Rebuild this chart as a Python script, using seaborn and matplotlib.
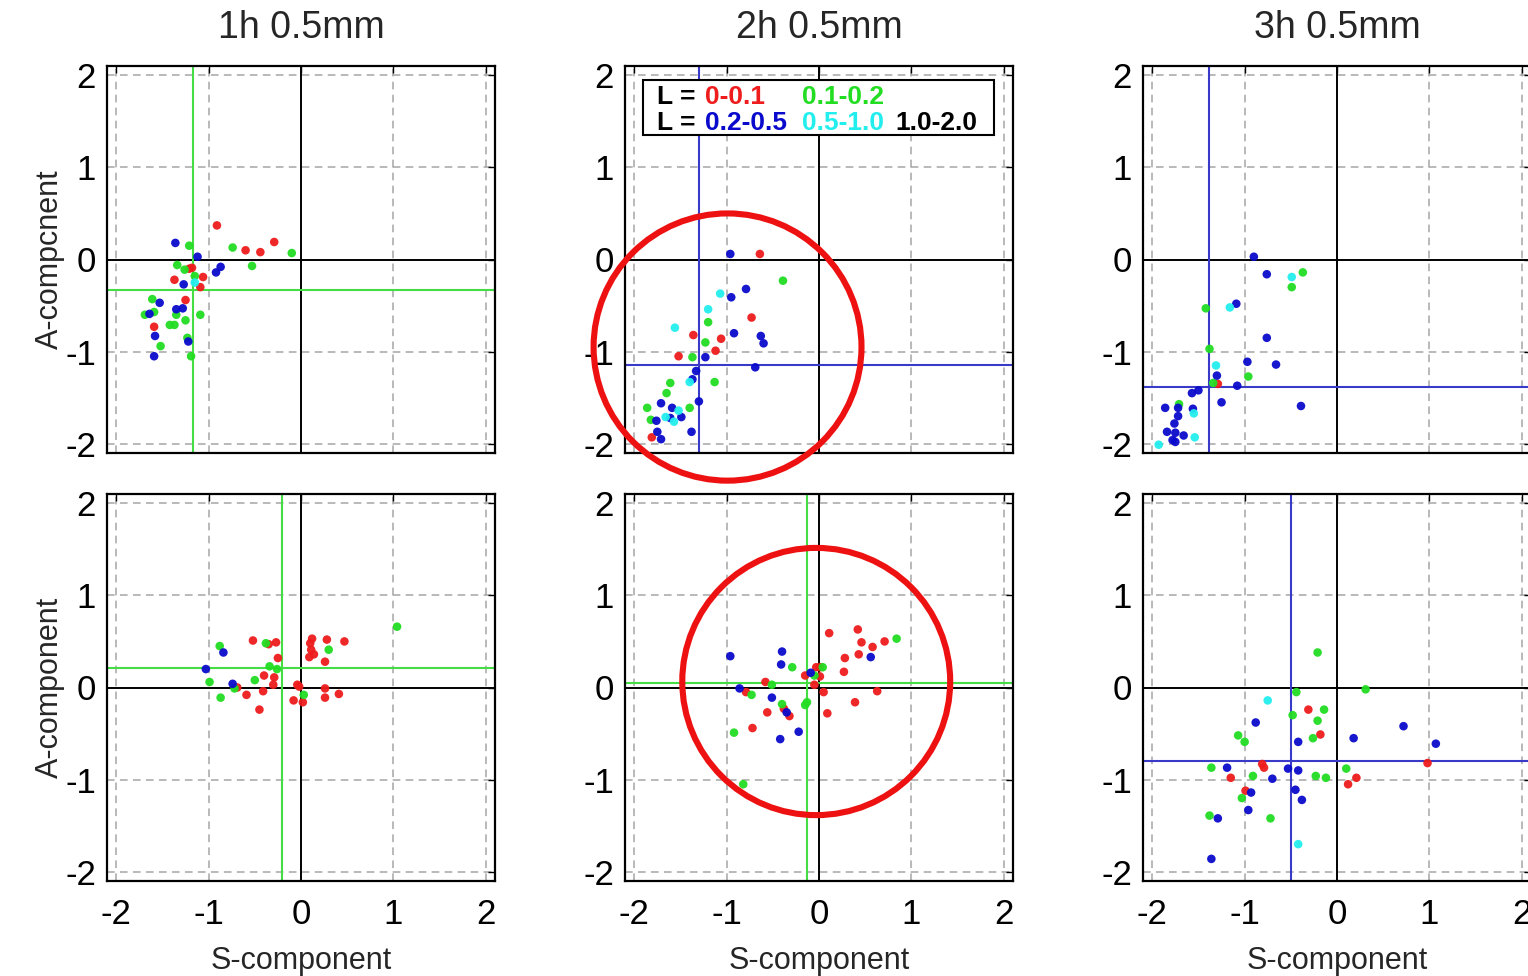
import matplotlib
matplotlib.use("Agg")
import matplotlib.pyplot as plt
import seaborn as sns
import pandas as pd
from matplotlib.patches import Circle, Rectangle

# ---------------- data ----------------
CLASSES = ["0-0.1", "0.1-0.2", "0.2-0.5", "0.5-1.0", "1.0-2.0"]
COLORS = ["#ee1c1c", "#22dd22", "#0a0acc", "#22eeee", "#000000"]
TITLES = ["1h 0.5mm", "2h 0.5mm", "3h 0.5mm"]
YLABELS = ["A-compcnent", "A-component"]
XLABEL = "S-component"
TICKS = [-2, -1, 0, 1, 2]

# each panel: class -> (S values, A values)
top_1h = {
    "0-0.1": ([-0.91, -0.29, -0.60, -0.44, -1.21, -1.18, -1.06, -1.37, -1.09, -1.25, -1.59],
              [0.37, 0.19, 0.10, 0.08, -0.10, -0.09, -0.19, -0.22, -0.30, -0.44, -0.73]),
    "0.1-0.2": ([-1.21, -0.74, -0.10, -1.34, -1.26, -0.53, -1.15, -1.61, -1.59, -1.69, -1.35, -1.09,
                 -1.25, -1.42, -1.37, -1.23, -1.52, -1.19],
                [0.15, 0.13, 0.07, -0.06, -0.11, -0.07, -0.18, -0.43, -0.57, -0.60, -0.60, -0.60,
                 -0.66, -0.71, -0.71, -0.85, -0.94, -1.05]),
    "0.2-0.5": ([-1.36, -1.12, -0.87, -0.92, -1.27, -1.53, -1.35, -1.28, -1.64, -1.58, -1.22, -1.59],
                [0.18, 0.03, -0.08, -0.14, -0.27, -0.47, -0.54, -0.53, -0.59, -0.83, -0.89, -1.05]),
    "0.5-1.0": ([-1.15], [-0.25]),
}
top_2h = {
    "0-0.1": ([-0.64, -0.73, -1.36, -1.06, -1.12, -1.52, -1.81],
              [0.06, -0.63, -0.82, -0.86, -0.99, -1.05, -1.93]),
    "0.1-0.2": ([-0.39, -1.20, -1.23, -1.37, -1.13, -1.61, -1.65, -1.86, -1.40, -1.82],
                [-0.23, -0.68, -0.90, -1.06, -1.33, -1.34, -1.45, -1.61, -1.61, -1.74]),
    "0.2-0.5": ([-0.96, -0.79, -0.95, -0.92, -0.63, -0.60, -1.23, -0.69, -1.33, -1.37, -1.30, -1.71,
                 -1.59, -1.49, -1.61, -1.76, -1.75, -1.38, -1.71],
                [0.06, -0.32, -0.41, -0.80, -0.83, -0.91, -1.06, -1.17, -1.21, -1.30, -1.54, -1.56,
                 -1.61, -1.71, -1.72, -1.75, -1.87, -1.87, -1.95]),
    "0.5-1.0": ([-1.07, -1.20, -1.56, -1.40, -1.52, -1.66, -1.57],
                [-0.37, -0.54, -0.74, -1.33, -1.64, -1.71, -1.76]),
}
top_3h = {
    "0-0.1": ([-1.29], [-1.35]),
    "0.1-0.2": ([-0.37, -0.49, -1.42, -1.38, -0.96, -1.34, -1.71],
                [-0.14, -0.30, -0.53, -0.97, -1.27, -1.34, -1.57]),
    "0.2-0.5": ([-0.90, -0.76, -1.09, -0.76, -0.97, -0.66, -1.30, -1.08, -1.50, -1.57, -1.25, -0.39,
                 -1.86, -1.72, -1.56, -1.72, -1.76, -1.84, -1.75, -1.66, -1.78, -1.75],
                [0.03, -0.16, -0.48, -0.85, -1.11, -1.14, -1.26, -1.37, -1.42, -1.45, -1.55, -1.59,
                 -1.61, -1.61, -1.62, -1.70, -1.78, -1.87, -1.88, -1.91, -1.96, -1.98]),
    "0.5-1.0": ([-0.49, -1.16, -1.31, -1.55, -1.54, -1.93],
                [-0.19, -0.52, -1.15, -1.67, -1.93, -2.01]),
}
bot_1h = {
    "0-0.1": ([-0.52, -0.35, -0.27, 0.12, 0.10, 0.28, 0.47, 0.11, 0.14, 0.09, 0.26, -0.25, -0.40,
               -0.29, -0.30, -0.04, -0.02, -0.69, -0.59, -0.41, 0.26, 0.26, 0.41, -0.08, 0.02, -0.45],
              [0.51, 0.47, 0.49, 0.53, 0.48, 0.52, 0.50, 0.41, 0.36, 0.33, 0.28, 0.32, 0.13,
               0.11, 0.03, 0.03, 0.01, 0.00, -0.08, -0.04, -0.01, -0.11, -0.07, -0.14, -0.16, -0.24]),
    "0.1-0.2": ([1.04, -0.88, -0.38, 0.30, -0.34, -0.26, -0.50, -0.99, -0.72, -0.87, 0.03],
                [0.66, 0.45, 0.48, 0.41, 0.23, 0.20, 0.08, 0.06, -0.01, -0.11, -0.08]),
    "0.2-0.5": ([-0.84, -1.03, -0.74], [0.38, 0.20, 0.04]),
}
bot_2h = {
    "0-0.1": ([0.11, 0.42, 0.46, 0.58, 0.71, 0.28, 0.43, 0.27, -0.03, 0.01, -0.15, 0.01, -0.05,
               -0.58, -0.79, 0.05, 0.63, 0.39, 0.09, -0.56, -0.38, -0.32, -0.72],
              [0.59, 0.63, 0.49, 0.44, 0.50, 0.32, 0.36, 0.17, 0.22, 0.22, 0.13, 0.12, 0.03,
               0.06, -0.05, -0.05, -0.04, -0.16, -0.28, -0.27, -0.23, -0.31, -0.44]),
    "0.1-0.2": ([0.84, -0.29, -0.05, 0.04, -0.51, -0.73, -0.40, -0.13, -0.15, -0.92, -0.82],
                [0.53, 0.22, 0.13, 0.22, 0.03, -0.08, -0.18, -0.16, -0.19, -0.49, -1.05]),
    "0.2-0.5": ([-0.96, -0.40, -0.41, 0.56, -0.09, -0.86, -0.51, -0.35, -0.22, -0.42],
                [0.34, 0.39, 0.25, 0.33, 0.16, -0.01, -0.11, -0.27, -0.48, -0.56]),
}
bot_3h = {
    "0-0.1": ([-0.31, -0.18, -0.81, -0.79, -1.15, -0.99, 0.12, 0.21, 0.98],
              [-0.24, -0.51, -0.83, -0.87, -0.98, -1.12, -1.05, -0.98, -0.82]),
    "0.1-0.2": ([-0.21, 0.31, -0.44, -0.14, -0.48, -0.21, -0.26, -1.07, -1.00, -1.36, -0.91, -0.23,
                 -0.12, 0.10, -1.03, -1.38, -0.72],
                [0.38, -0.02, -0.05, -0.24, -0.30, -0.36, -0.55, -0.52, -0.59, -0.87, -0.96, -0.96,
                 -0.98, -0.88, -1.20, -1.39, -1.42]),
    "0.2-0.5": ([-0.88, -0.42, 0.18, 0.72, 1.07, -1.19, -0.53, -0.42, -0.70, -0.93, -0.45, -0.38,
                 -0.96, -1.29, -1.36],
                [-0.38, -0.59, -0.55, -0.42, -0.61, -0.87, -0.88, -0.90, -0.99, -1.14, -1.11, -1.22,
                 -1.33, -1.42, -1.86]),
    "0.5-1.0": ([-0.75, -0.42], [-0.14, -1.70]),
}

PANELS = [[top_1h, top_2h, top_3h], [bot_1h, bot_2h, bot_3h]]
# mean cross lines per panel: (S mean, A mean, class colour index)
MEANS = [[(-1.17, -0.33, 1), (-1.30, -1.15, 2), (-1.39, -1.38, 2)],
         [(-0.21, 0.21, 1), (-0.13, 0.05, 1), (-0.50, -0.80, 2)]]
# highlighted regions (row, col, centre S, centre A, radius)
CIRCLES = [(0, 1, -0.99, -0.95, 1.45), (1, 1, -0.03, 0.065, 1.45)]

# ---------------- plot ----------------
sns.set_style("white")
plt.rcParams["font.family"] = ["Liberation Sans", "DejaVu Sans"]
plt.rcParams["axes.unicode_minus"] = False

fig = plt.figure(figsize=(15.28, 9.76), dpi=100)
lefts = [107 / 1528, 625 / 1528, 1143 / 1528]
bottoms = [1 - 453 / 976, 1 - 881 / 976]
W, H = 388 / 1528, 387 / 976
palette = dict(zip(CLASSES, COLORS))

for r in range(2):
    for c in range(3):
        ax = fig.add_axes([lefts[c], bottoms[r], W, H])
        rows = []
        for cls, (s_vals, a_vals) in PANELS[r][c].items():
            for s, a in zip(s_vals, a_vals):
                rows.append({"S": s, "A": a, "L": cls})
        df = pd.DataFrame(rows)
        ax.set_xlim(-2.1, 2.1)
        ax.set_ylim(-2.1, 2.1)
        for t in [-2, -1, 1, 2]:
            ax.axvline(t, color="#a6a6a6", lw=1.1, ls=(0, (5, 3.5)), zorder=0.5)
            ax.axhline(t, color="#a6a6a6", lw=1.1, ls=(0, (5, 3.5)), zorder=0.5)
        ax.axvline(0, color="black", lw=1.4, zorder=1)
        ax.axhline(0, color="black", lw=1.4, zorder=1)
        ms, ma, mc = MEANS[r][c]
        mcol = "#44dd44" if mc == 1 else "#3a3ac8"
        ax.axvline(ms, color=mcol, lw=1.5, zorder=1.5)
        ax.axhline(ma, color=mcol, lw=1.5, zorder=1.5)
        sns.scatterplot(data=df, x="S", y="A", hue="L", palette=palette,
                        hue_order=[k for k in CLASSES if k in set(df["L"])],
                        s=38, linewidth=0, alpha=0.95, legend=False, ax=ax, zorder=3)
        ax.set_xticks(TICKS)
        ax.set_yticks(TICKS)
        ax.tick_params(direction="in", length=5, width=1, top=True, right=True,
                       labelsize=25, colors="black")
        ax.tick_params(axis="x", pad=12)
        ax.tick_params(axis="y", pad=8)
        for sp in ax.spines.values():
            sp.set_color("black")
            sp.set_linewidth(1.6)
        ax.set_xlabel("")
        ax.set_ylabel("")
        if r == 0:
            ax.set_title(TITLES[c], fontsize=27, pad=20)
            ax.set_xticklabels([])
        else:
            ax.set_xlabel(XLABEL, fontsize=22, labelpad=11)
        if c == 0:
            ax.set_ylabel(YLABELS[r], fontsize=22, labelpad=0)
        for (cr, cc, cx, cy, rad) in CIRCLES:
            if cr == r and cc == c:
                ax.add_patch(Circle((cx, cy), rad, fill=False, ec="#ee1111", lw=4.4,
                                    clip_on=False, zorder=10))
        if r == 0 and c == 1:
            ax.add_patch(Rectangle((0.046, 0.821), 0.905, 0.143, transform=ax.transAxes,
                                   facecolor="white", edgecolor="black", lw=1.5, zorder=8))
            kw = dict(transform=ax.transAxes, fontsize=19, fontweight="bold",
                      va="center", ha="left", zorder=9)
            ax.text(0.082, 0.920, "L =", color="black", **kw)
            ax.text(0.205, 0.920, CLASSES[0], color=COLORS[0], **kw)
            ax.text(0.456, 0.920, CLASSES[1], color=COLORS[1], **kw)
            ax.text(0.082, 0.852, "L =", color="black", **kw)
            ax.text(0.205, 0.852, CLASSES[2], color=COLORS[2], **kw)
            ax.text(0.456, 0.852, CLASSES[3], color=COLORS[3], **kw)
            ax.text(0.696, 0.852, CLASSES[4], color=COLORS[4], **kw)

fig.savefig("out.png", dpi=100)
